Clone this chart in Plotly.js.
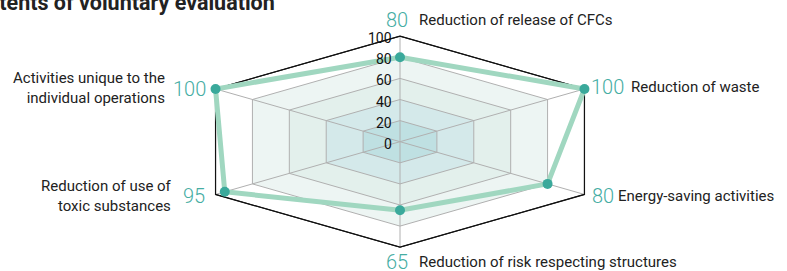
<!DOCTYPE html>
<html>
<head>
<meta charset="utf-8">
<script src="https://cdn.plot.ly/plotly-3.0.1.min.js"></script>
<style>html,body{margin:0;padding:0;background:#fff;}#chart{width:787px;height:271px;}</style>
</head>
<body>
<div id="chart"></div>
<script>
// ---- data ----
const title = "Contents of voluntary evaluation";
const categories = [
  "Reduction of release of CFCs",
  "Reduction of waste",
  "Energy-saving activities",
  "Reduction of risk respecting structures",
  "Reduction of use of<br>toxic substances",
  "Activities unique to the<br>individual operations"
];
const values = [80, 100, 80, 65, 95, 100];
const tickValues = [0, 20, 40, 60, 80, 100];
const tickLabels = ["0", "20", "40", "60", "80", "100"];

// ---- styling ----
const angles = [90, 30, -30, -90, -150, 150];
const bandColors = {100: "#ffffff", 80: "#edf5f3", 60: "#e3f0ec", 40: "#d4e9ea", 20: "#bfe0e2"};
const font = "Roboto, 'Open Sans', sans-serif";
const teal = "#45ada3";
// per-direction label offsets (px) relative to the outer vertex
const valOff = [
  {xs: 10, ys: 16, xa: "right"},
  {xs: 5, ys: 2, xa: "left"},
  {xs: 6, ys: -2, xa: "left"},
  {xs: 10, ys: -15, xa: "right"},
  {xs: -9, ys: -2, xa: "right"},
  {xs: -8, ys: 0, xa: "right"}
];
const catOff = [
  {xs: 17, ys: 16, xa: "left"},
  {xs: 45, ys: 2, xa: "left"},
  {xs: 32, ys: -2, xa: "left"},
  {xs: 17, ys: -15, xa: "left"},
  {xs: -42, ys: -2, xa: "right"},
  {xs: -49, ys: 1, xa: "right"}
];

function pt(v, a) {
  const r = a * Math.PI / 180;
  return [v * Math.cos(r), v * Math.sin(r)];
}
function hexagon(v) {
  const xs = [], ys = [];
  angles.concat([angles[0]]).forEach(a => { const p = pt(v, a); xs.push(p[0]); ys.push(p[1]); });
  return {x: xs, y: ys};
}

const traces = [];
// bands, outer to inner
tickValues.slice().reverse().forEach(v => {
  if (v === 0) return;
  const h = hexagon(v);
  traces.push({x: h.x, y: h.y, mode: "lines", fill: "toself", fillcolor: bandColors[v],
    line: {color: v === 100 ? "#111111" : "#b0b0b0", width: 1}, hoverinfo: "skip"});
});
// spokes
angles.forEach(a => {
  const p = pt(100, a);
  traces.push({x: [0, p[0]], y: [0, p[1]], mode: "lines", line: {color: "#b0b0b0", width: 1}, hoverinfo: "skip"});
});
// outer outline on top
const outer = hexagon(100);
traces.push({x: outer.x, y: outer.y, mode: "lines", line: {color: "#111111", width: 1.2}, hoverinfo: "skip"});
// data
const dx = [], dy = [];
values.concat([values[0]]).forEach((v, i) => { const p = pt(v, angles[i % angles.length]); dx.push(p[0]); dy.push(p[1]); });
traces.push({x: dx, y: dy, mode: "lines", line: {color: "#a0d7c0", width: 5}, hoverinfo: "skip"});
traces.push({x: dx.slice(0, -1), y: dy.slice(0, -1), mode: "markers", marker: {color: "#3aa99b", size: 10}, hoverinfo: "skip"});

const annotations = [];
// tick labels
tickValues.forEach((v, i) => {
  annotations.push({x: 0, y: v, xref: "x", yref: "y", text: tickLabels[i], showarrow: false,
    xanchor: "right", yanchor: "middle", xshift: -6, yshift: -2,
    font: {family: font, size: 14, color: "#111"}});
});
// value + category labels
categories.forEach((c, i) => {
  const p = pt(100, angles[i]);
  annotations.push({x: p[0], y: p[1], xref: "x", yref: "y", text: String(values[i]), showarrow: false,
    xanchor: valOff[i].xa, yanchor: "middle", xshift: valOff[i].xs, yshift: valOff[i].ys,
    font: {family: font, size: 20, color: teal, weight: 300}});
  annotations.push({x: p[0], y: p[1], xref: "x", yref: "y", text: c, showarrow: false,
    xanchor: catOff[i].xa, yanchor: "middle", align: catOff[i].xa, xshift: catOff[i].xs, yshift: catOff[i].ys,
    font: {family: font, size: 15, color: "#222"}});
});
// title (clipped at the left edge, as in the source)
annotations.push({x: 277 / 787, y: 1, xref: "paper", yref: "paper", text: "<b>" + title + "</b>", showarrow: false,
  xanchor: "right", yanchor: "middle", yshift: -2, font: {family: font, size: 21.5, color: "#222"}});

const layout = {
  width: 787, height: 271, autosize: false,
  margin: {l: 0, r: 0, t: 0, b: 0},
  paper_bgcolor: "#ffffff", plot_bgcolor: "#ffffff",
  showlegend: false,
  xaxis: {range: [-400 / 2.13, 387 / 2.13], visible: false, fixedrange: true},
  yaxis: {range: [-(271 - 141.7) / 1.055, 141.7 / 1.055], visible: false, fixedrange: true},
  annotations: annotations
};
Plotly.newPlot("chart", traces, layout, {displayModeBar: false, staticPlot: true});
</script>
</body>
</html>
